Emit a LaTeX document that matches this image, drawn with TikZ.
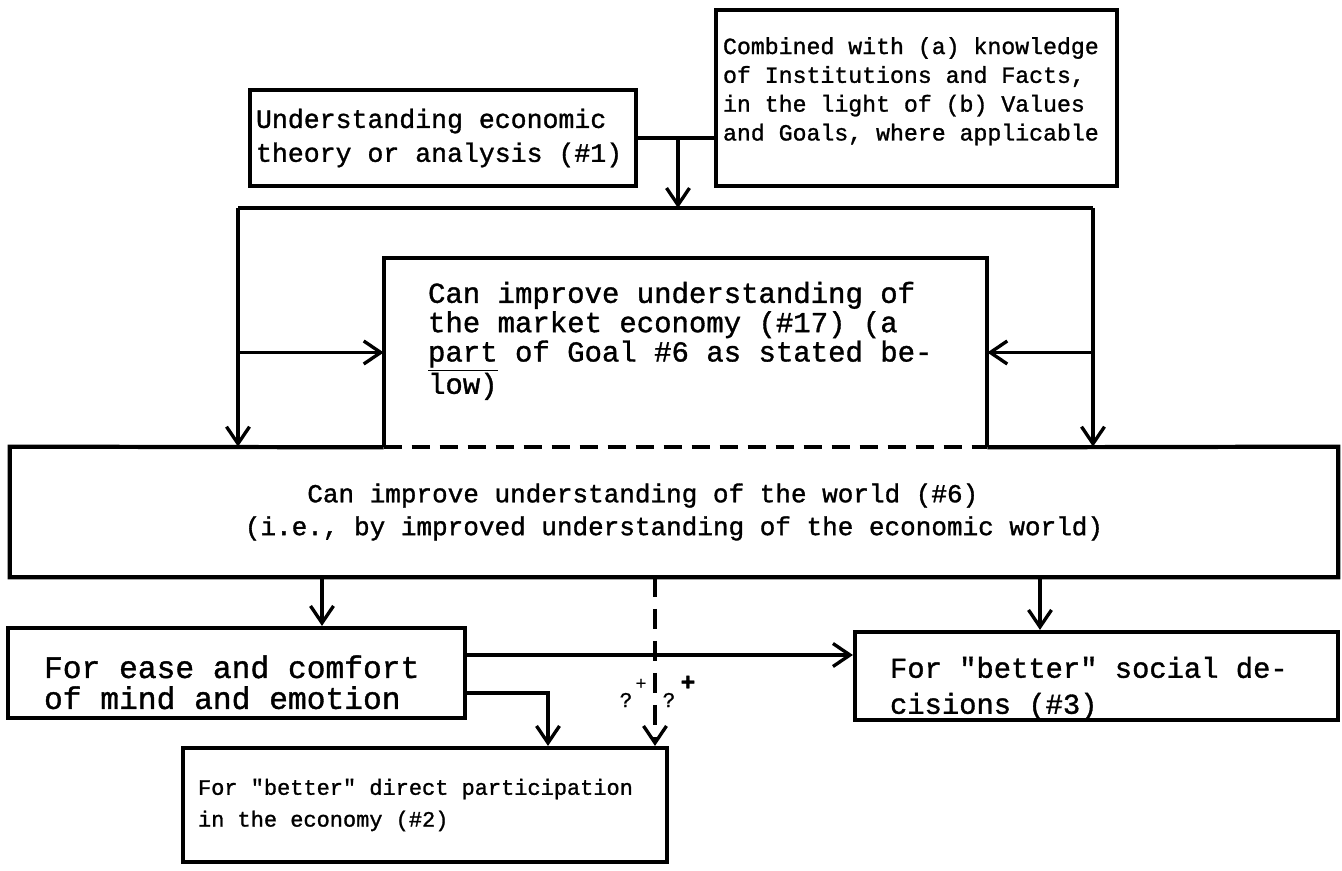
\documentclass[tikz,border=0pt]{standalone}
\usepackage{fontspec}
\setmonofont{Liberation Mono}[FakeBold=1.2]
\usetikzlibrary{arrows.meta}
\pgfdeclarelayer{bg}
\pgfsetlayers{bg,main}
\tikzset{
    plain/.style={inner sep=0pt, align=flush left},
    box/.style={plain, draw, line width=2.4pt},
    frame/.style={line width=2.4pt},
    txt/.style 2 args={font=\ttfamily\fontsize{#1}{#2}\selectfont,
        execute at begin node={\spaceskip=0.6em\relax\xspaceskip=0.6em\relax}},
    link/.style={line width=1.8pt},
    arr/.style={link, -{Straight Barb[length=3.4mm, width=4.6mm, line width=1.9pt]}},
    sign/.style={inner sep=0pt, font=\ttfamily\fontsize{12}{12}\selectfont},
}

\begin{document}
\begin{tikzpicture}[x=0.02cm, y=-0.02cm]
    \useasboundingbox (0,0) rectangle (1342,871);

    \node (theory) [box, txt={15.1}{19.3}, minimum width=7.72cm, minimum height=1.92cm, text width=7.48cm] at (443,138) {Understanding economic\\theory or analysis (\#1)};
    \node (combined) [box, txt={13.2}{16.4}, minimum width=8.02cm, minimum height=3.52cm, text width=7.74cm] at (916.5,98) {Combined with (a) knowledge\\of Institutions and Facts,\\in the light of (b) Values\\and Goals, where applicable\\[-6pt]\mbox{}};
    \node (market) [plain, txt={16.5}{16.7}, minimum width=12.06cm, minimum height=3.78cm, text width=10.3cm] at (685.5,352.5) {Can improve understanding of\\the market economy (\#17) (a\\\underline{part} of Goal \#6 as stated be-\\low)\\\mbox{}};
    \node (world) [plain, txt={14.8}{18.7}, minimum width=26.56cm, minimum height=2.6cm] at (674,512) {\phantom{xxxx}Can improve understanding of the world (\#6)\\(i.e., by improved understanding of the economic world)};
    \node (ease) [box, txt={17.8}{17.6}, minimum width=9.14cm, minimum height=1.8cm, text width=7.7cm] at (236.5,673) {\mbox{}\\[5.9pt]For ease and comfort\\of mind and emotion};
    \node (social) [box, txt={16.4}{20.5}, minimum width=9.66cm, minimum height=1.76cm, text width=8.26cm] at (1096.5,676) {\mbox{}\\[5.4pt]For "better" social de-\\cisions (\#3)};
    \node (direct) [box, txt={12.5}{18.1}, minimum width=9.68cm, minimum height=2.28cm, text width=9.08cm] at (425,805) {For "better" direct participation\\in the economy (\#2)};

    \node (q1) [sign] at (626,700) {?};
    \node (p1) [sign, font=\ttfamily\fontsize{10}{10}\selectfont] at (641,684) {+};
    \node (q2) [sign] at (669,700) {?};
    \node (p2) [sign, font=\ttfamily\bfseries\fontsize{14}{14}\selectfont] at (688,683) {+};

    \coordinate (split) at (678,138);
    \coordinate (fork) at (678,208);
    \coordinate (forkL) at (238,208);
    \coordinate (forkR) at (1093,208);
    \coordinate (outL) at (322,577);
    \coordinate (outM) at (655,577);
    \coordinate (outR) at (1040,577);
    \coordinate (easeA) at (465,655);
    \coordinate (easeB) at (465,693);
    \coordinate (turn) at (548,693);

    \draw[frame] (market.south west) -- (market.north west) -- (market.north east) -- (market.south east);
    \draw[frame] (market.south west) -- (world.north west) -- (world.south west) -- (world.south east) -- (world.north east) -- (market.south east);
    \draw[frame, dash pattern=on 0.36cm off 0.2cm] (market.south west) -- (market.south east);

    \begin{pgfonlayer}{bg}
        \draw[link] (theory.east) -- (theory.east -| combined.west);
        \draw[arr] (split) -- (fork);
        \draw[link] (forkL) -- (forkR);
        \draw[arr] (forkL) -- (forkL |- world.north);
        \draw[arr] (forkR) -- (forkR |- world.north);
        \draw[arr] (forkL |- market.west) -- (market.west);
        \draw[arr] (forkR |- market.east) -- (market.east);
        \draw[arr] (outL) -- (outL |- ease.north);
        \draw[arr, dash pattern=on 0.4cm off 0.24cm] (outM) -- (outM |- direct.north);
        \draw[arr] (outR) -- (outR |- social.north);
        \draw[arr] (easeA) -- (easeA -| social.west);
        \draw[arr] (easeB) -- (turn) -- (turn |- direct.north);
    \end{pgfonlayer}
\end{tikzpicture}
\end{document}
